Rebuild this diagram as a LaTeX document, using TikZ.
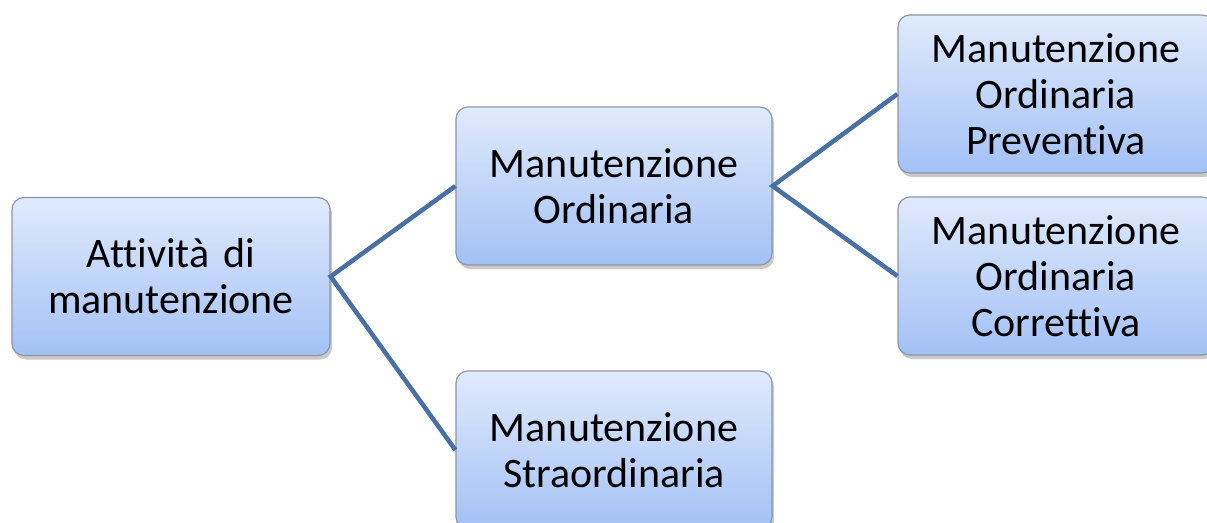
\documentclass[tikz,border=0pt]{standalone}
\usepackage{fontspec}
\setmainfont[Ligatures=CommonOff]{Carlito}
\usetikzlibrary{shadows}
\definecolor{boxtop}{HTML}{E0EAFC}
\definecolor{boxbot}{HTML}{A3C1F6}
\definecolor{boxline}{HTML}{8C96A6}
\definecolor{linkcol}{HTML}{4870A4}
\tikzset{
  box/.style={draw=boxline, line width=1.2pt, rounded corners=12pt,
    top color=boxtop, bottom color=boxbot,
    minimum width=316pt, minimum height=158pt, inner sep=0pt,
    text width=300pt, align=center,
    font=\fontsize{42}{46}\selectfont,
    drop shadow={shadow xshift=2pt, shadow yshift=-4pt, opacity=0.35, fill=black!60}},
  link/.style={draw=linkcol, line width=4.5pt}
}
\begin{document}
\begin{tikzpicture}[x=1pt,y=-1pt]
\useasboundingbox (0,0) rectangle (1207,522);
\fill[white] (0,0) rectangle (1207,522);
\begin{scope}
\clip (0,0) rectangle (1207,522);
\node[box, minimum width=318pt] (a) at (171,276.5) {Attività di\\manutenzione};
\node[box] (b) at (614,186) {Manutenzione\\Ordinaria};
\node[box] (c) at (614,450) {Manutenzione\\Straordinaria};
\node[box] (d) at (1056,94) {Manutenzione\\Ordinaria\\Preventiva};
\node[box] (e) at (1056,276) {Manutenzione\\Ordinaria\\Correttiva};
\draw[link] (b.west) -- (a.east) -- (c.west);
\draw[link] (d.west) -- (b.east) -- (e.west);
\end{scope}
\end{tikzpicture}
\end{document}
